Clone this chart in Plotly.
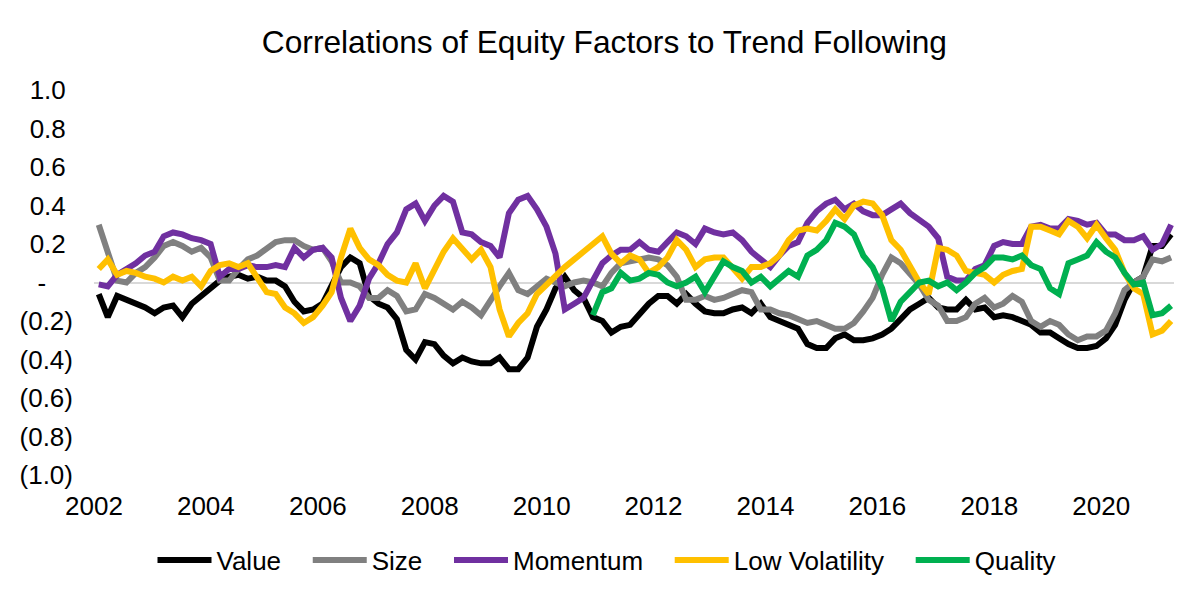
import pandas as pd
import plotly.graph_objects as go

title = "Correlations of Equity Factors to Trend Following"
series_names = ["Value", "Size", "Momentum", "Low Volatility", "Quality"]
series_colors = ["#000000", "#808080", "#7030A0", "#FFC000", "#00B050"]

# bi-monthly observation dates, Feb 2002 .. Apr 2021
dates = pd.date_range("2002-02-01", periods=116, freq="2MS")

value = [
    -0.06, -0.18, -0.07, -0.09, -0.11, -0.13, -0.16, -0.13, -0.12, -0.18,
    -0.11, -0.07, -0.02, 0.01, 0.03, 0.04, 0.02, 0.03, 0.01, 0.01,
    -0.02, -0.10, -0.15, -0.14, -0.11, -0.01, 0.08, 0.13, 0.10, -0.07,
    -0.11, -0.13, -0.19, -0.35, -0.40, -0.31, -0.32, -0.38, -0.42, -0.39,
    -0.41, -0.42, -0.42, -0.39, -0.45, -0.45, -0.39, -0.23, -0.14, -0.03,
    0.03, -0.04, -0.08, -0.18, -0.20, -0.26, -0.23, -0.22, -0.16, -0.11,
    -0.07, -0.07, -0.11, -0.06, -0.11, -0.15, -0.16, -0.16, -0.14, -0.13,
    -0.16, -0.11, -0.18, -0.20, -0.22, -0.24, -0.32, -0.34, -0.34, -0.29,
    -0.27, -0.30, -0.30, -0.29, -0.27, -0.24, -0.19, -0.14, -0.11, -0.08,
    -0.13, -0.14, -0.14, -0.09, -0.14, -0.13, -0.18, -0.17, -0.18, -0.20,
    -0.22, -0.26, -0.26, -0.29, -0.32, -0.34, -0.34, -0.33, -0.29, -0.22,
    -0.09, 0.00, 0.03, 0.19, 0.19, 0.25,
]

size = [
    0.30, 0.15, 0.01, 0.00, 0.05, 0.08, 0.13, 0.19, 0.21, 0.19,
    0.16, 0.18, 0.13, 0.01, 0.01, 0.07, 0.12, 0.14, 0.18, 0.21,
    0.22, 0.22, 0.19, 0.17, 0.18, 0.11, 0.00, 0.00, -0.02, -0.08,
    -0.08, -0.04, -0.07, -0.15, -0.14, -0.06, -0.08, -0.11, -0.14, -0.10,
    -0.13, -0.17, -0.10, -0.02, 0.05, -0.04, -0.06, -0.02, 0.02, 0.00,
    -0.02, 0.00, 0.01, 0.00, -0.02, 0.05, 0.10, 0.11, 0.12, 0.13,
    0.12, 0.09, 0.03, -0.09, -0.09, -0.07, -0.09, -0.08, -0.06, -0.04,
    -0.05, -0.14, -0.14, -0.16, -0.17, -0.19, -0.21, -0.20, -0.22, -0.24,
    -0.24, -0.21, -0.15, -0.08, 0.04, 0.13, 0.10, 0.05, -0.01, -0.09,
    -0.12, -0.20, -0.20, -0.18, -0.11, -0.08, -0.13, -0.11, -0.07, -0.10,
    -0.20, -0.23, -0.20, -0.22, -0.27, -0.30, -0.28, -0.28, -0.25, -0.16,
    -0.04, 0.00, 0.03, 0.12, 0.11, 0.13,
]

momentum = [
    -0.01, -0.02, 0.04, 0.07, 0.10, 0.14, 0.16, 0.24, 0.26, 0.25,
    0.23, 0.22, 0.20, 0.03, 0.07, 0.07, 0.09, 0.08, 0.08, 0.09,
    0.08, 0.18, 0.13, 0.17, 0.18, 0.13, -0.08, -0.20, -0.12, 0.02,
    0.10, 0.20, 0.26, 0.38, 0.41, 0.32, 0.40, 0.45, 0.42, 0.26,
    0.25, 0.21, 0.19, 0.13, 0.36, 0.43, 0.45, 0.38, 0.29, 0.15,
    -0.14, -0.11, -0.08, 0.01, 0.10, 0.14, 0.17, 0.17, 0.21, 0.17,
    0.16, 0.21, 0.26, 0.24, 0.20, 0.28, 0.26, 0.25, 0.26, 0.22,
    0.16, 0.12, 0.08, 0.14, 0.19, 0.21, 0.31, 0.37, 0.41, 0.43,
    0.38, 0.41, 0.37, 0.35, 0.35, 0.38, 0.41, 0.36, 0.32, 0.29,
    0.23, 0.03, 0.01, 0.01, 0.07, 0.09, 0.19, 0.21, 0.20, 0.20,
    0.29, 0.30, 0.28, 0.28, 0.33, 0.32, 0.30, 0.31, 0.25, 0.25,
    0.22, 0.22, 0.24, 0.17, 0.20, 0.30,
]

low_volatility = [
    0.07, 0.12, 0.04, 0.06, 0.05, 0.03, 0.02, 0.00, 0.03, 0.01,
    0.03, -0.02, 0.06, 0.09, 0.10, 0.08, 0.10, 0.02, -0.05, -0.06,
    -0.13, -0.16, -0.21, -0.18, -0.12, -0.05, 0.13, 0.28, 0.18, 0.12,
    0.09, 0.04, 0.01, 0.00, 0.10, -0.03, 0.06, 0.16, 0.23, 0.18,
    0.12, 0.17, 0.08, -0.14, -0.28, -0.21, -0.16, -0.06, -0.01, 0.03,
    0.08, 0.12, 0.16, 0.20, 0.24, 0.15, 0.10, 0.14, 0.12, 0.05,
    0.08, 0.13, 0.22, 0.17, 0.08, 0.12, 0.13, 0.13, 0.07, 0.02,
    0.08, 0.08, 0.10, 0.14, 0.22, 0.27, 0.28, 0.27, 0.32, 0.38,
    0.33, 0.40, 0.42, 0.41, 0.35, 0.22, 0.17, 0.09, 0.00, -0.06,
    0.18, 0.17, 0.14, 0.06, 0.05, 0.04, 0.00, 0.04, 0.06, 0.07,
    0.29, 0.29, 0.27, 0.25, 0.32, 0.29, 0.23, 0.30, 0.23, 0.17,
    0.05, -0.03, -0.06, -0.27, -0.25, -0.20,
]

quality = [None] * 53 + [
    -0.17, -0.05, -0.03, 0.05, 0.01, 0.02, 0.05,
    0.04, 0.00, -0.02, 0.00, 0.03, -0.05, 0.04, 0.11, 0.08, 0.06,
    0.00, 0.03, -0.02, 0.02, 0.06, 0.03, 0.14, 0.17, 0.22, 0.31,
    0.29, 0.25, 0.14, 0.08, -0.03, -0.20, -0.10, -0.05, 0.00, 0.01,
    -0.02, 0.00, -0.04, 0.00, 0.05, 0.08, 0.13, 0.13, 0.12, 0.14,
    0.09, 0.07, -0.03, -0.06, 0.10, 0.12, 0.14, 0.21, 0.16, 0.13,
    0.05, -0.01, 0.00, -0.17, -0.16, -0.12,
]

y_tickvals = [1.0, 0.8, 0.6, 0.4, 0.2, 0.0, -0.2, -0.4, -0.6, -0.8, -1.0]
y_ticktext = ["1.0\u00a0", "0.8\u00a0", "0.6\u00a0", "0.4\u00a0", "0.2\u00a0",
              "-\u00a0\u00a0\u00a0\u2009", "(0.2)", "(0.4)", "(0.6)", "(0.8)", "(1.0)"]

all_series = [value, size, momentum, low_volatility, quality]

FONT = "Liberation Sans, Arial, sans-serif"
PAD = "\u00a0\u00a0\u00a0"

fig = go.Figure()
for k, (name, color, vals) in enumerate(zip(series_names, series_colors, all_series)):
    label = name if k == len(series_names) - 1 else name + PAD
    fig.add_trace(go.Scatter(
        x=dates, y=vals, name=label, mode="lines",
        line=dict(color=color, width=6),
        connectgaps=False,
    ))

fig.update_layout(
    width=1200, height=600,
    paper_bgcolor="white", plot_bgcolor="white",
    margin=dict(l=86, r=34, t=82, b=133),
    font=dict(family=FONT, color="black", size=26),
    title=dict(text=title, x=0.497, xanchor="center", y=0.943, yanchor="middle",
               font=dict(family=FONT, size=31.7, color="black")),
    showlegend=True,
    legend=dict(orientation="h", x=0.475, xanchor="center", y=-0.221, yanchor="middle",
                font=dict(family=FONT, size=26, color="black"),
                itemwidth=54, tracegroupgap=0),
    xaxis=dict(type="date", range=["2002-01-01", "2021-04-20"],
               tick0="2002-01-01", dtick="M24", tickformat="%Y",
               showgrid=False, zeroline=False, showline=False, ticks="",
               ticklabelstandoff=13,
               tickfont=dict(family=FONT, size=26, color="black")),
    yaxis=dict(range=[-1, 1], tickmode="array", tickvals=y_tickvals, ticktext=y_ticktext,
               showgrid=False, zeroline=True, zerolinecolor="#d9d9d9", zerolinewidth=2,
               showline=False, ticks="", ticklabelstandoff=20,
               tickfont=dict(family=FONT, size=26, color="black")),
)

fig.write_html("out.html")
